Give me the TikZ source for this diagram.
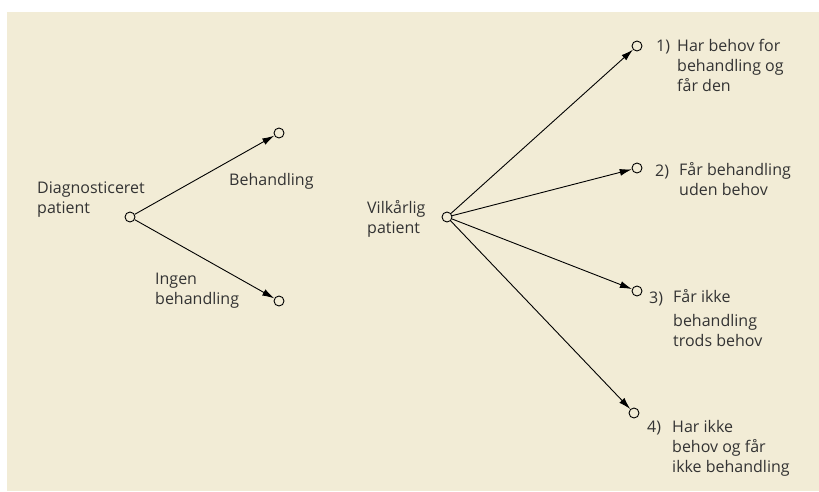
\documentclass[tikz,border=0pt]{standalone}
\usepackage{fontspec}
\setmainfont{Open Sans}
\usetikzlibrary{arrows.meta}
\definecolor{paper}{RGB}{242,236,214}
\definecolor{ink}{RGB}{51,51,51}

\begin{document}
\begin{tikzpicture}[x=1pt, y=-1pt,
	Dot/.style={draw, circle, inner sep=0pt, minimum size=10pt, line width=0.9pt},
	Label/.style={anchor=base west, inner sep=0pt, align=left, text=ink, font=\fontsize{16}{20}\selectfont},
	>={Latex[length=12pt, width=7pt]}]
		\useasboundingbox (0,0) rectangle (819,491);
		\fill[paper] (7,12) rectangle (819,491);
		% branch points
		\node[Dot] (diag) at (130,217) {};
		\node[Dot] (treat) at (279,133) {};
		\node[Dot] (notreat) at (279,301) {};
		\node[Dot] (any) at (447,217) {};
		\node[Dot] (c1) at (637,46) {};
		\node[Dot] (c2) at (637,168) {};
		\node[Dot] (c3) at (637,291) {};
		\node[Dot] (c4) at (634,413) {};
		% texts (placed at the baseline of their last line)
		\node[Label] (diaglbl) at (37,213) {Diagnosticeret\\patient};
		\node[Label] (treatlbl) at (229,185) {Behandling};
		\node[Label] (notreatlbl) at (155,304) {Ingen\\behandling};
		\node[Label] (anylbl) at (367,233) {Vilkårlig\\patient};
		\node[Label] (n1) at (656,51) {1)};
		\node[Label] (t1) at (677,91) {Har behov for\\behandling og\\får den};
		\node[Label] (n2) at (655,176) {2)};
		\node[Label] (t2) at (679,195) {Får behandling\\uden behov};
		\node[Label] (n3) at (649,303) {3)};
		\node[Label] (t3) at (673,346) {Får ikke\\[4pt]behandling\\trods behov};
		\node[Label] (n4) at (647,432) {4)};
		\node[Label] (t4) at (672,472) {Har ikke\\behov og får\\ikke behandling};
		% connectors
		\draw[->, line width=0.9pt] (diag) to (treat);
		\draw[->, line width=0.9pt] (diag) to (notreat);
		\draw[->, line width=0.9pt] (any) to (c1);
		\draw[->, line width=0.9pt] (any) to (c2);
		\draw[->, line width=0.9pt] (any) to (c3);
		\draw[->, line width=0.9pt] (any) to (c4);
	\end{tikzpicture}
\end{document}
